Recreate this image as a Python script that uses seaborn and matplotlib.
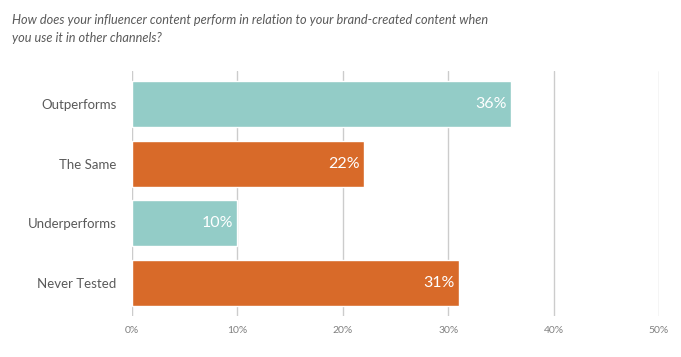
import matplotlib
matplotlib.use("Agg")
import matplotlib.pyplot as plt
import seaborn as sns
import pandas as pd

categories = ["Outperforms", "The Same", "Underperforms", "Never Tested"]
values = [36, 22, 10, 31]
colors = ["#93ccc7", "#d86a29", "#93ccc7", "#d86a29"]
xticks = [0, 10, 20, 30, 40, 50]
xticklabels = ["0%", "10%", "20%", "30%", "40%", "50%"]
title = ("How does your influencer content perform in relation to your brand-created content when\n"
         "you use it in other channels?")

sns.set_style("white")
plt.rcParams["font.family"] = ["Lato", "DejaVu Sans"]

df = pd.DataFrame({"category": categories, "value": values})

fig = plt.figure(figsize=(6.81, 3.57), dpi=100)
ax = fig.add_axes([0.1938, 0.115, 0.7739, 0.686])

sns.barplot(data=df, x="value", y="category", hue="category", palette=colors,
            legend=False, width=0.77, saturation=1, ax=ax, zorder=3)

ax.set_xlim(0, 50)
ax.set_ylim(3.55, -0.55)
ax.set_xticks(xticks)
ax.set_xticklabels(xticklabels, fontsize=7.5, color="#808080")
ax.tick_params(axis="x", length=0, pad=7)
ax.tick_params(axis="y", length=0, pad=11, labelsize=9.5, labelcolor="#5a5a5a")
ax.xaxis.grid(True, color="#cccccc", linewidth=1, zorder=0)
ax.set_axisbelow(True)
ax.set_xlabel("")
ax.set_ylabel("")
for s in ["top", "right", "bottom", "left"]:
    ax.spines[s].set_visible(False)
ax.axvline(0, color="#cccccc", linewidth=1.5, zorder=1)

for i, v in enumerate(values):
    ax.text(v - 0.4, i, f"{v}%", ha="right", va="center", color="white",
            fontsize=11.5, zorder=4)

fig.text(0.018, 0.96, title, ha="left", va="top", fontsize=9.2, style="italic",
         color="#5a5a5a", linespacing=1.6)

fig.savefig("out.png", dpi=100)
